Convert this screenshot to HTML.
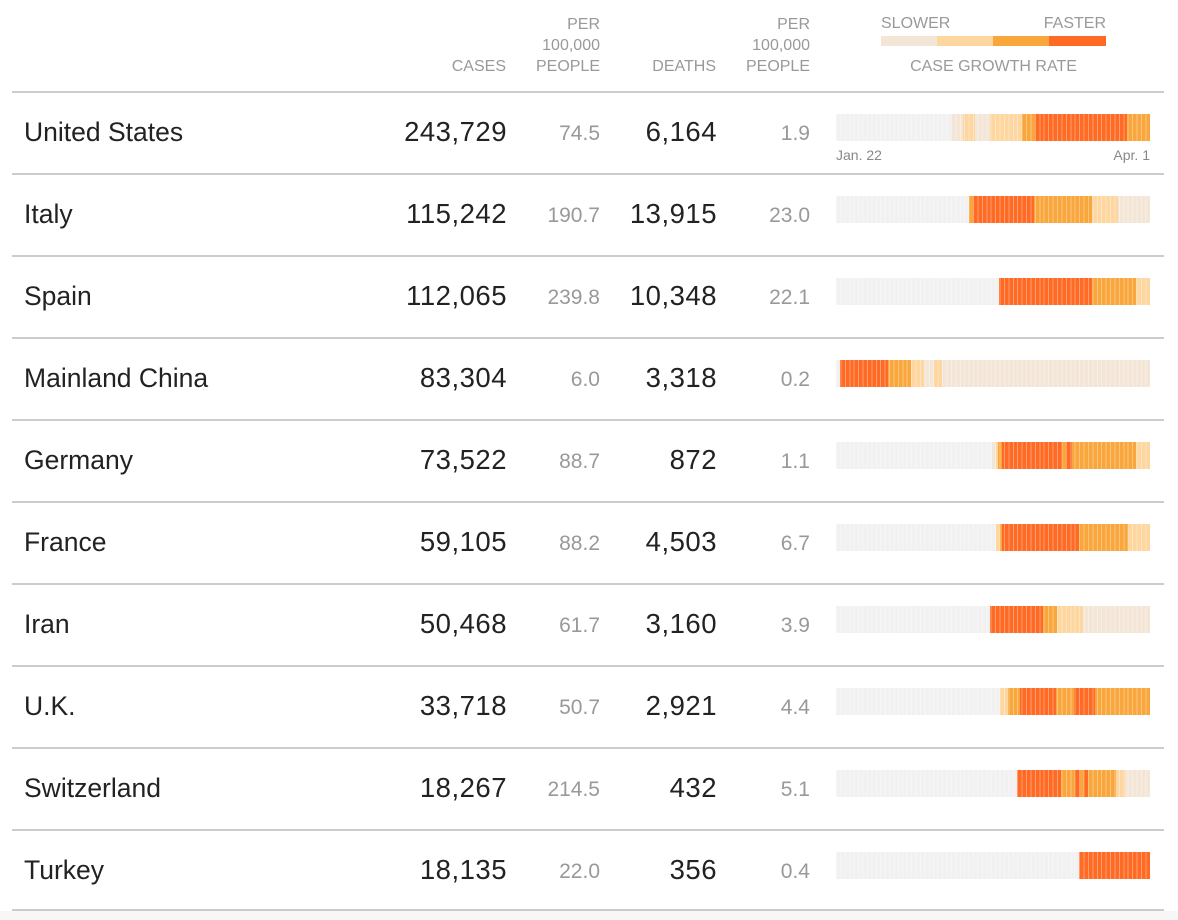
<!DOCTYPE html><html><head><style>
body{margin:0;width:1178px;height:920px;background:#fff;font-family:"Liberation Sans",sans-serif;position:relative;overflow:hidden}
.a{position:absolute;white-space:nowrap}
.h{color:#999;font-size:16px;line-height:21px;text-align:right}
.line{position:absolute;left:12px;width:1152px;height:2px;background:#ccc}
.n{font-size:27.5px;color:#222;line-height:30px}
.c{font-size:26.5px;color:#222;line-height:30px}
.g{font-size:21px;color:#999;line-height:30px}
.bar{position:absolute;left:836px;width:314px;height:27px}
.bar:after{content:"";position:absolute;inset:0;background:repeating-linear-gradient(90deg,rgba(255,255,255,0.35) 0 1px,transparent 1px 4.42px)}
</style></head><body>
<div class="a h" style="right:672px;top:56px">CASES</div>
<div class="a h" style="right:578px;top:14px">PER<br>100,000<br>PEOPLE</div>
<div class="a h" style="right:462px;top:56px">DEATHS</div>
<div class="a h" style="right:368px;top:14px">PER<br>100,000<br>PEOPLE</div>
<div class="a h" style="left:881px;top:13px;text-align:left">SLOWER</div>
<div class="a h" style="right:72px;top:13px">FASTER</div>
<div class="a" style="left:881px;top:36px;width:225px;height:10px;background:linear-gradient(90deg,#f3e6d6 0 56px,#fdd6a0 56px 112px,#f9a63c 112px 168px,#ff6a24 168px)"></div>
<div class="a h" style="left:881px;width:225px;top:56px;text-align:center">CASE GROWTH RATE</div>
<div class="a" style="left:836px;top:147px;font-size:14px;color:#888">Jan. 22</div>
<div class="a" style="right:28px;top:147px;font-size:14px;color:#888">Apr. 1</div>
<div class="a" style="left:0;top:911px;width:1178px;height:9px;background:#f7f7f7"></div>
<div id="rows"></div>
<script>
var G='#f1f1f1',A='#f3e6d6',B='#fdd6a0',C='#f9a63c',D='#ff6a24';
var rows=[
["United States","243,729","74.5","6,164","1.9",[G,115,A,127,B,139,A,154,B,186,C,199,D,291,C,314]],
["Italy","115,242","190.7","13,915","23.0",[G,133,C,137,D,198,C,256,B,282,A,314]],
["Spain","112,065","239.8","10,348","22.1",[G,163,D,256,C,300,B,314]],
["Mainland China","83,304","6.0","3,318","0.2",[G,4,D,52,C,75,B,88,A,98,B,106,A,314]],
["Germany","73,522","88.7","872","1.1",[G,156,A,160,B,162,C,166,D,226,C,230,D,236,C,300,B,314]],
["France","59,105","88.2","4,503","6.7",[G,160,B,164,C,166,D,243,C,292,B,314]],
["Iran","50,468","61.7","3,160","3.9",[G,154,D,207,C,221,B,247,A,314]],
["U.K.","33,718","50.7","2,921","4.4",[G,164,B,172,C,184,D,220,C,238,D,259,C,314]],
["Switzerland","18,267","214.5","432","5.1",[G,181,D,225,C,239,D,244,C,248,D,252,C,280,B,289,A,314]],
["Turkey","18,135","22.0","356","0.4",[G,243,D,314]]];
var h='';
rows.forEach(function(r,i){var t=91+82*i,c=133+82*i;
h+='<div class="line" style="top:'+t+'px"></div>';
h+='<div class="a c" style="left:24px;top:'+(c-16)+'px">'+r[0]+'</div>';
h+='<div class="a n" style="right:671px;top:'+(c-16)+'px;letter-spacing:0.5px">'+r[1]+'</div>';
h+='<div class="a g" style="right:578px;top:'+(c-14)+'px">'+r[2]+'</div>';
h+='<div class="a n" style="right:461px;top:'+(c-16)+'px;letter-spacing:0.5px">'+r[3]+'</div>';
h+='<div class="a g" style="right:368px;top:'+(c-14)+'px">'+r[4]+'</div>';
var s=r[5],p=0,st=[];for(var k=0;k<s.length;k+=2){st.push(s[k]+' '+p+'px '+s[k+1]+'px');p=s[k+1];}
h+='<div class="bar" style="top:'+(114+82*i)+'px;background:linear-gradient(90deg,'+st.join(',')+')"></div>';});
h+='<div class="line" style="top:909px"></div>';
document.getElementById('rows').innerHTML=h;
</script>
</body></html>
